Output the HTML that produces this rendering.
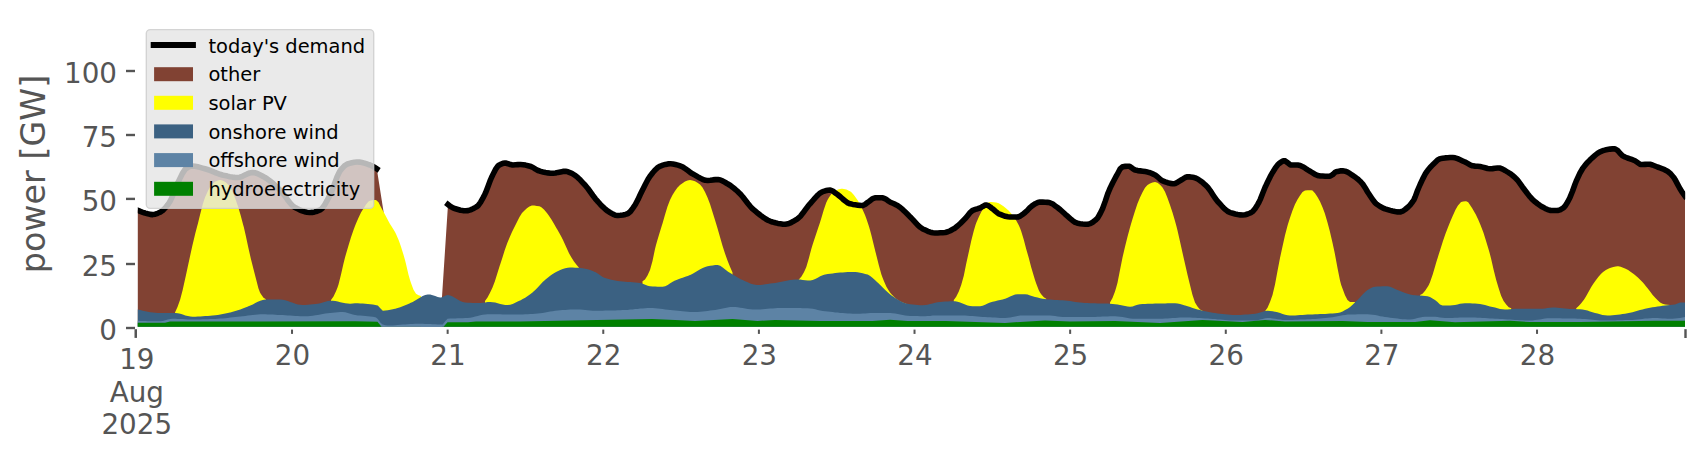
<!DOCTYPE html>
<html lang="en"><head><meta charset="utf-8"><title>power generation and demand</title>
<style>html,body{margin:0;padding:0;background:#fff}body{width:1706px;height:460px;overflow:hidden}svg{display:block}text{font-family:"DejaVu Sans","Liberation Sans",sans-serif}</style></head><body>
<svg width="1706" height="460" viewBox="0 0 1706 460">
<rect width="1706" height="460" fill="#ffffff"/>
<g id="areas">
<polygon points="137.8,326.8 137.8,210.3 140.3,211.4 142.8,212.3 145.0,213.0 145.3,213.1 147.8,213.8 150.2,214.4 152.5,214.6 152.7,214.6 155.2,214.2 157.7,213.3 160.0,212.3 160.2,212.2 162.7,210.5 165.2,207.9 167.7,204.8 169.3,202.5 170.2,201.1 172.7,195.6 175.1,189.2 177.6,183.2 178.0,182.5 180.1,178.1 182.6,173.1 185.1,169.4 186.0,168.6 187.6,167.6 190.1,166.3 192.0,166.0 192.6,166.0 195.1,166.2 197.6,166.7 200.0,167.4 202.5,168.1 205.0,168.8 205.0,168.8 207.5,169.5 210.0,170.4 212.5,171.4 215.0,172.5 217.5,173.4 220.0,174.3 222.4,175.0 222.5,175.0 224.9,175.6 227.4,176.1 229.9,176.7 232.4,177.1 234.9,177.4 237.4,177.5 237.5,177.5 239.9,177.2 242.4,176.3 244.9,175.1 247.3,173.9 249.8,172.9 252.3,172.5 252.5,172.5 254.8,172.8 257.3,173.5 259.8,174.7 262.3,176.0 264.8,177.4 265.0,177.5 267.3,178.9 269.7,180.7 272.2,182.7 274.7,184.9 277.2,187.3 279.7,189.7 280.0,190.0 282.2,192.4 284.7,195.7 287.2,199.2 289.7,202.5 292.2,205.3 294.6,207.3 295.0,207.5 297.1,208.6 299.6,209.8 302.1,210.8 304.6,211.7 307.1,212.2 309.6,212.5 310.0,212.5 312.1,212.4 314.6,211.9 317.1,211.2 319.5,210.2 320.0,210.0 322.0,208.5 324.5,205.1 327.0,200.7 329.5,195.9 330.0,195.0 332.0,190.6 334.5,183.8 337.0,177.0 339.5,171.8 340.0,171.0 341.9,168.6 344.4,165.9 346.9,164.2 347.5,164.0 349.4,163.4 351.9,162.7 354.4,162.2 356.9,162.0 357.5,162.0 359.4,162.1 361.9,162.5 364.4,163.1 366.8,163.9 369.3,164.8 370.0,165.0 371.8,165.8 374.3,167.2 376.8,168.8 383.5,211.5 383.5,326.8" fill="#814233"/>
<polygon points="442.0,326.8 442.0,297.0 448.0,204.5 450.5,206.4 453.0,207.9 454.5,208.5 455.5,208.8 458.0,209.5 460.5,210.2 463.0,210.6 465.5,210.8 466.0,210.8 468.0,210.6 470.5,209.9 473.0,208.8 475.5,207.4 477.0,206.5 478.0,205.7 480.5,202.4 483.0,197.9 484.5,195.0 485.5,192.9 488.0,186.4 490.5,179.8 491.5,177.5 493.0,174.4 495.5,169.4 498.0,165.9 498.5,165.5 500.5,164.3 503.0,163.3 505.0,163.0 505.5,163.0 508.0,163.7 510.5,164.6 512.5,165.0 513.0,165.0 515.5,164.8 518.0,164.6 520.0,164.5 520.5,164.5 523.0,164.7 525.5,165.1 528.0,165.7 530.0,166.2 530.5,166.4 533.0,167.5 535.5,169.1 538.0,170.5 540.0,171.2 540.5,171.4 543.0,172.0 545.5,172.5 548.0,172.9 550.5,173.2 552.5,173.2 553.0,173.2 555.5,173.0 558.0,172.4 560.5,171.9 563.0,171.4 565.0,171.2 565.5,171.3 568.0,171.8 570.5,172.8 572.5,173.8 572.9,174.0 575.4,175.6 577.9,177.7 580.4,180.1 582.9,182.8 585.0,185.0 585.4,185.5 587.9,188.5 590.4,192.0 592.9,195.5 595.4,198.8 597.5,201.2 597.9,201.7 600.4,204.4 602.9,206.9 605.4,209.2 607.9,211.2 610.0,212.5 610.4,212.7 612.9,214.1 615.4,215.2 617.5,215.5 617.9,215.5 620.4,215.3 622.9,214.9 625.4,214.4 627.5,213.8 627.9,213.6 630.4,211.5 632.9,208.1 635.0,205.0 635.4,204.3 637.9,199.7 640.4,194.3 642.5,190.0 642.9,189.2 645.4,184.2 647.9,179.5 650.0,176.2 650.4,175.7 652.9,172.5 655.4,169.7 657.9,167.4 660.0,166.2 660.4,166.1 662.9,165.2 665.4,164.4 667.9,163.9 670.0,163.8 670.4,163.8 672.9,164.0 675.4,164.5 677.9,165.1 680.0,165.8 680.4,165.9 682.9,167.1 685.4,168.8 687.9,170.6 690.4,172.5 692.5,173.8 692.9,174.0 695.4,175.4 697.9,176.9 700.4,178.3 702.9,179.5 705.4,180.3 707.5,180.5 707.9,180.5 710.4,180.3 712.9,179.9 715.4,179.6 717.5,179.5 717.9,179.5 720.4,180.0 722.9,181.1 725.4,182.5 727.5,183.8 727.9,184.0 730.4,185.5 732.9,187.4 735.4,189.5 737.9,191.7 740.0,193.8 740.4,194.1 742.9,197.0 745.4,200.2 747.9,203.5 750.4,206.6 752.5,208.8 752.9,209.1 755.4,211.2 757.9,213.3 760.4,215.3 762.9,217.1 765.4,218.8 767.9,220.2 770.4,221.3 772.5,222.0 772.9,222.1 775.4,222.8 777.9,223.4 780.4,223.8 782.9,224.2 785.0,224.2 785.4,224.2 787.9,223.8 790.4,222.9 792.9,221.6 795.4,220.1 797.5,218.8 797.9,218.5 800.4,216.2 802.9,213.1 805.4,209.7 807.9,206.3 810.0,203.8 810.4,203.4 812.9,200.5 815.4,197.6 817.9,195.0 820.3,192.9 822.5,191.8 822.8,191.6 825.3,190.8 827.8,190.2 830.0,190.0 830.3,190.0 832.8,191.0 835.3,192.9 837.5,194.5 837.8,194.7 840.3,196.7 842.8,199.0 845.3,201.1 847.8,202.9 850.0,203.8 850.3,203.8 852.8,204.4 855.3,204.8 857.8,205.2 860.3,205.4 862.5,205.5 862.8,205.5 865.3,204.3 867.8,202.3 869.0,201.5 870.3,200.5 872.8,198.6 875.0,197.8 875.3,197.8 877.8,197.8 880.3,197.8 882.5,197.8 882.8,197.8 885.3,198.8 887.8,200.6 890.0,202.0 890.3,202.2 892.8,203.3 895.3,204.4 897.5,205.5 897.8,205.7 900.3,207.5 902.8,209.7 905.3,212.1 907.8,214.6 910.0,216.8 910.3,217.0 912.8,219.6 915.3,222.4 917.8,225.1 920.3,227.3 922.5,228.8 922.8,228.9 925.3,230.1 927.8,231.3 930.3,232.2 932.8,232.8 935.0,233.0 935.3,233.0 937.8,233.0 940.3,232.8 942.8,232.7 945.0,232.5 945.3,232.5 947.8,231.8 950.3,230.7 952.8,229.3 953.8,228.8 955.3,227.8 957.8,225.8 960.3,223.5 962.8,221.0 965.0,218.8 965.3,218.5 967.8,215.4 970.3,212.3 972.5,210.5 972.8,210.4 975.3,209.4 977.8,208.7 980.0,208.0 980.3,207.9 982.8,206.4 985.3,205.1 986.2,205.0 987.8,205.4 990.3,207.0 992.5,208.8 992.8,208.9 995.3,211.1 997.8,213.2 998.8,213.8 1000.3,214.4 1002.8,215.4 1005.3,216.3 1007.8,216.8 1010.0,217.0 1010.3,217.0 1012.8,217.0 1015.3,217.0 1017.5,217.0 1017.8,217.0 1020.3,216.1 1022.8,214.3 1025.0,212.5 1025.3,212.3 1027.8,209.9 1030.3,207.3 1032.5,205.5 1032.8,205.3 1035.3,203.7 1037.8,202.5 1040.0,202.0 1040.3,202.0 1042.8,202.1 1045.3,202.2 1047.8,202.4 1048.8,202.5 1050.3,202.9 1052.8,204.1 1055.3,205.9 1057.5,207.5 1057.8,207.7 1060.3,209.7 1062.8,212.0 1065.3,214.3 1067.5,216.2 1067.7,216.4 1070.2,218.6 1072.7,220.7 1075.2,222.4 1077.5,223.2 1077.7,223.3 1080.2,223.7 1082.7,224.0 1085.2,224.2 1087.5,224.2 1087.7,224.2 1090.2,223.6 1092.7,222.2 1095.2,220.3 1096.2,219.5 1097.7,217.8 1100.2,213.5 1102.5,208.8 1102.7,208.2 1105.2,201.4 1107.7,193.9 1108.8,191.2 1110.2,187.9 1112.7,182.7 1115.2,178.0 1116.2,176.2 1117.7,173.5 1120.2,168.8 1122.5,166.8 1122.7,166.7 1125.2,166.4 1127.7,166.3 1128.8,166.2 1130.2,166.7 1132.7,168.6 1135.0,170.0 1135.2,170.1 1137.7,170.6 1140.2,170.9 1142.7,171.2 1145.2,171.6 1147.5,172.0 1147.7,172.1 1150.2,172.8 1152.7,173.9 1155.0,175.0 1155.2,175.1 1157.7,177.0 1160.2,179.3 1162.5,180.8 1162.7,180.8 1165.2,181.8 1167.7,182.7 1170.2,183.4 1172.7,183.7 1173.8,183.8 1175.2,183.5 1177.7,182.2 1180.2,180.6 1181.2,180.0 1182.7,179.1 1185.2,177.5 1187.5,176.8 1187.7,176.8 1190.2,176.9 1192.7,177.3 1193.8,177.5 1195.2,177.9 1197.7,179.0 1200.2,180.7 1202.7,182.6 1205.2,184.8 1206.2,185.8 1207.7,187.3 1210.2,190.6 1212.7,194.5 1215.2,198.3 1217.5,201.2 1217.7,201.5 1220.2,204.2 1222.7,207.0 1225.2,209.4 1227.7,211.4 1230.0,212.5 1230.2,212.6 1232.7,213.3 1235.2,214.0 1237.7,214.5 1240.2,214.9 1242.5,215.0 1242.7,215.0 1245.2,214.7 1247.7,214.0 1250.2,213.0 1251.2,212.5 1252.7,211.5 1255.2,208.4 1257.7,204.4 1258.8,202.5 1260.2,199.6 1262.7,193.3 1265.0,187.5 1265.2,187.1 1267.7,181.7 1270.2,176.7 1272.5,172.5 1272.7,172.2 1275.2,168.2 1277.7,164.8 1278.8,163.8 1280.2,162.7 1282.7,161.1 1284.2,160.8 1285.2,160.9 1287.7,162.8 1290.2,164.7 1291.2,165.0 1292.7,165.0 1295.2,165.0 1297.5,165.0 1297.7,165.0 1300.2,165.5 1302.7,166.7 1305.2,168.2 1307.7,169.9 1310.0,171.2 1310.2,171.3 1312.7,172.8 1315.1,174.4 1317.6,175.5 1318.8,175.8 1320.1,175.9 1322.6,176.0 1325.1,176.2 1327.6,176.2 1330.0,176.2 1330.1,176.2 1332.6,174.7 1335.1,172.3 1336.2,171.8 1337.6,171.4 1340.1,170.9 1342.5,170.8 1342.6,170.8 1345.1,171.2 1347.6,172.2 1350.1,173.7 1352.6,175.4 1355.0,177.0 1355.1,177.1 1357.6,178.9 1360.1,181.2 1362.5,183.8 1362.6,183.9 1365.1,187.7 1367.6,192.0 1368.8,193.8 1370.1,195.8 1372.6,199.5 1375.1,202.7 1376.2,203.8 1377.6,204.8 1380.1,206.5 1382.6,207.8 1385.0,208.8 1385.1,208.8 1387.6,209.6 1390.1,210.4 1392.6,211.0 1395.1,211.5 1397.6,211.9 1400.0,212.0 1400.1,212.0 1402.6,211.2 1405.1,209.5 1407.5,207.5 1407.6,207.4 1410.1,205.0 1412.6,201.8 1413.8,200.0 1415.1,197.1 1417.6,190.3 1418.8,187.5 1420.1,184.5 1422.6,179.1 1425.1,174.3 1426.2,172.5 1427.6,170.6 1430.1,167.5 1432.6,164.9 1433.8,163.8 1435.1,162.4 1437.6,160.0 1440.0,158.8 1440.1,158.7 1442.6,158.3 1445.1,157.9 1447.6,157.7 1450.1,157.5 1452.5,157.5 1452.6,157.5 1455.1,157.8 1457.6,158.6 1460.1,159.7 1462.6,160.9 1465.0,162.0 1465.1,162.0 1467.6,163.4 1470.1,164.9 1472.5,165.8 1472.6,165.8 1475.1,166.1 1477.6,166.3 1480.0,166.5 1480.1,166.5 1482.6,167.1 1485.1,167.8 1487.6,168.5 1490.0,168.8 1490.1,168.7 1492.6,168.6 1495.1,168.3 1497.6,168.0 1498.8,168.0 1500.1,168.1 1502.6,169.1 1505.1,170.5 1507.5,172.0 1507.6,172.0 1510.1,173.6 1512.6,175.5 1515.1,177.6 1516.2,178.8 1517.6,180.2 1520.1,183.6 1522.6,187.2 1523.8,188.8 1525.1,190.5 1527.6,193.8 1530.1,196.9 1532.5,199.5 1532.6,199.6 1535.1,201.8 1537.6,203.8 1540.1,205.6 1542.5,207.0 1542.6,207.0 1545.1,208.4 1547.6,209.6 1550.1,210.4 1551.2,210.5 1552.6,210.5 1555.1,210.5 1557.5,210.5 1557.6,210.5 1560.1,209.9 1562.5,208.4 1563.8,207.5 1565.0,206.2 1567.5,202.3 1570.0,197.5 1570.0,197.4 1572.5,191.2 1575.0,184.2 1576.2,181.2 1577.5,178.3 1580.0,173.0 1582.5,168.8 1582.5,168.7 1585.0,165.3 1587.5,162.4 1590.0,159.9 1591.2,158.8 1592.5,157.6 1595.0,155.4 1597.5,153.4 1600.0,151.8 1602.5,150.8 1602.5,150.7 1605.0,150.1 1607.5,149.6 1610.0,149.1 1612.5,148.9 1615.0,148.8 1615.0,148.8 1617.5,150.3 1620.0,153.3 1622.5,155.8 1622.5,155.8 1625.0,157.0 1627.5,158.0 1630.0,158.8 1632.5,159.7 1635.0,160.8 1635.0,160.8 1637.5,162.5 1640.0,164.2 1641.2,164.5 1642.5,164.5 1645.0,164.4 1647.5,164.3 1648.8,164.2 1650.0,164.3 1652.5,165.0 1655.0,166.0 1657.5,167.0 1657.5,167.0 1660.0,167.9 1662.5,168.8 1665.0,169.9 1667.5,171.2 1667.5,171.3 1670.0,173.2 1672.5,176.0 1673.8,177.5 1675.0,179.4 1677.5,184.1 1680.0,188.8 1680.0,188.8 1682.5,192.7 1685.0,196.2 1685.0,326.8" fill="#814233"/>
<polygon points="175.0,326.8 175.0,312.5 177.5,307.0 180.0,300.0 180.1,299.8 182.6,290.3 185.1,279.0 186.0,275.0 187.6,267.5 190.2,255.6 192.5,245.0 192.7,244.2 195.2,233.8 197.5,225.0 197.8,224.0 200.3,213.8 202.8,204.1 205.0,197.5 205.3,196.7 207.9,190.9 210.4,186.2 212.5,183.8 212.9,183.4 215.4,181.6 218.0,180.4 220.0,180.0 220.5,180.0 223.0,180.8 225.6,182.3 228.1,184.4 228.8,185.0 230.6,187.5 233.1,193.0 235.7,199.8 237.5,205.0 238.2,207.0 240.7,215.5 243.2,225.0 243.8,227.0 245.8,235.7 248.3,247.5 250.0,255.0 250.8,258.5 253.4,268.7 255.0,275.0 255.9,278.5 258.4,288.3 260.0,292.5 260.9,294.1 263.5,297.7 266.0,299.3 266.0,326.8" fill="#ffff00"/>
<polygon points="331.0,326.8 331.0,300.0 333.5,296.5 336.0,291.2 337.5,287.5 338.5,284.5 341.0,274.5 343.5,263.4 345.0,257.5 346.0,254.0 348.5,245.4 351.0,237.3 353.5,230.0 355.0,226.0 356.0,223.5 358.5,217.7 361.0,212.6 362.5,210.0 363.5,208.4 366.0,204.5 368.5,201.5 370.0,200.8 371.0,200.5 373.5,200.1 376.0,200.0 378.5,202.3 381.0,207.2 382.5,210.0 383.5,211.7 386.0,216.5 388.5,221.3 390.0,224.0 391.0,225.6 393.5,229.4 395.0,232.0 396.0,234.0 398.5,239.7 399.0,241.0 401.0,246.8 402.0,250.0 403.5,254.8 405.0,260.0 406.0,263.9 408.5,274.7 410.0,280.0 411.0,283.0 413.5,289.7 416.0,293.8 418.5,295.3 421.0,296.0 421.0,326.8" fill="#ffff00"/>
<polygon points="485.0,326.8 485.0,301.0 487.5,297.5 489.9,293.0 492.4,287.7 492.5,287.5 494.9,281.2 497.3,273.5 499.8,265.6 500.0,265.0 502.3,258.0 504.7,250.3 507.2,243.3 507.5,242.5 509.7,237.3 512.1,231.8 514.6,226.8 515.0,226.0 517.1,221.8 519.5,216.9 522.0,213.1 522.5,212.5 524.5,210.5 526.9,208.2 529.4,206.4 531.9,205.5 532.5,205.5 534.3,205.6 536.8,205.9 539.3,206.3 540.0,206.5 541.7,207.4 544.2,209.7 546.7,212.7 547.5,213.8 549.1,215.9 551.6,219.7 554.1,223.9 556.5,228.2 557.0,229.0 559.0,232.5 561.5,237.1 563.0,240.0 563.9,242.0 566.4,247.5 568.9,252.9 570.0,255.0 571.3,257.3 573.8,261.2 576.3,264.6 578.8,267.5 578.8,326.8" fill="#ffff00"/>
<polygon points="642.5,326.8 642.5,281.2 645.0,279.6 647.5,275.4 650.0,270.0 652.5,260.9 655.0,249.1 656.0,245.0 657.5,239.7 660.0,231.4 662.0,225.0 662.5,223.4 665.0,214.7 667.5,206.5 670.0,200.0 672.5,195.1 675.0,190.9 677.5,187.4 680.0,185.0 682.5,183.2 685.0,181.6 687.5,180.4 690.0,180.0 692.5,180.4 695.0,181.3 697.5,182.8 700.0,184.5 702.5,187.5 705.0,192.1 707.5,197.5 710.0,204.0 712.5,211.9 715.0,220.0 717.5,228.3 720.0,237.1 722.5,245.7 725.0,253.5 727.5,260.4 730.0,266.7 732.5,272.5 732.5,326.8" fill="#ffff00"/>
<polygon points="798.8,326.8 798.8,279.5 801.3,276.8 803.8,272.5 805.0,270.0 806.3,266.9 808.8,258.4 811.3,249.1 812.5,245.0 813.8,241.0 816.3,233.5 818.8,226.1 819.5,224.0 821.3,218.2 823.8,209.7 826.3,202.5 827.5,200.0 828.8,197.8 831.3,194.1 833.8,191.5 835.0,190.8 836.3,190.2 838.8,189.3 841.3,188.8 842.5,188.8 843.9,188.9 846.4,189.6 848.9,190.7 850.0,191.2 851.4,192.2 853.9,194.9 856.4,198.4 857.5,200.0 858.9,202.2 861.4,206.9 863.9,212.4 865.0,215.0 866.4,218.7 868.9,226.3 870.0,230.0 871.4,235.3 873.9,245.6 875.5,252.0 876.4,255.6 878.9,265.6 881.4,274.5 882.5,277.5 883.9,281.1 886.4,286.7 889.0,291.1 890.0,292.5 891.5,294.2 894.0,296.8 896.5,299.0 899.0,300.7 900.0,301.2 901.5,302.0 904.0,303.1 906.5,304.0 909.0,304.5 909.0,326.8" fill="#ffff00"/>
<polygon points="953.8,326.8 953.8,300.0 956.2,296.8 958.8,291.5 961.2,285.0 963.8,275.7 966.2,263.7 968.8,252.0 971.2,241.1 973.8,230.8 975.5,225.0 976.2,223.0 978.8,216.9 981.2,212.0 982.5,210.0 983.8,208.2 986.2,204.7 988.8,202.3 990.0,202.0 991.2,202.0 993.8,202.2 996.2,202.5 998.8,203.3 1001.2,204.8 1003.8,206.6 1005.0,207.5 1006.2,208.5 1008.8,210.7 1011.2,213.5 1012.5,215.0 1013.8,216.7 1016.2,220.5 1018.8,225.3 1020.0,228.0 1021.2,231.3 1023.8,239.7 1026.2,249.0 1027.5,253.5 1028.8,258.0 1031.2,267.3 1033.8,276.1 1035.0,280.0 1036.2,283.6 1038.8,290.2 1040.0,292.5 1041.2,294.3 1043.8,297.3 1046.2,298.8 1046.2,326.8" fill="#ffff00"/>
<polygon points="1110.0,326.8 1110.0,302.5 1112.5,298.1 1115.0,291.4 1116.2,287.5 1117.5,282.7 1120.0,270.1 1122.5,257.5 1125.0,246.8 1127.5,236.8 1130.0,227.5 1131.0,224.0 1132.5,219.0 1135.0,210.9 1137.5,203.6 1140.0,197.5 1142.5,192.3 1145.0,187.8 1147.5,185.0 1150.0,183.5 1152.5,182.4 1155.0,182.0 1157.5,182.8 1160.0,184.8 1162.5,187.5 1165.0,191.8 1167.5,198.0 1170.0,205.0 1172.5,212.5 1175.0,221.0 1176.5,226.5 1177.5,230.5 1180.0,241.4 1182.5,252.8 1183.0,255.0 1185.0,263.8 1187.5,274.8 1190.0,285.0 1192.5,295.1 1195.0,302.5 1197.5,306.6 1200.0,309.6 1202.5,310.8 1202.5,326.8" fill="#ffff00"/>
<polygon points="1265.0,326.8 1265.0,311.2 1267.5,307.8 1270.0,302.1 1272.5,295.0 1275.0,284.6 1277.5,271.0 1280.0,258.0 1282.5,246.5 1285.0,235.3 1287.5,225.7 1288.0,224.0 1290.0,217.7 1292.5,210.5 1295.0,204.3 1297.5,199.5 1300.0,195.4 1302.5,192.0 1305.0,190.5 1307.5,190.3 1310.0,190.2 1311.2,190.2 1312.5,190.6 1315.0,193.3 1317.5,197.0 1320.0,201.4 1322.5,207.2 1324.5,212.5 1325.0,213.9 1327.5,222.4 1329.5,230.0 1330.0,232.0 1332.5,242.8 1334.5,252.0 1335.0,254.4 1337.5,267.9 1340.0,280.5 1341.2,285.0 1342.5,288.5 1345.0,295.2 1347.5,300.1 1350.0,302.0 1352.5,302.0 1355.0,302.0 1355.0,326.8" fill="#ffff00"/>
<polygon points="1420.0,326.8 1420.0,295.0 1422.5,293.7 1425.1,290.8 1427.6,286.9 1428.8,285.0 1430.1,282.1 1432.7,274.5 1435.2,265.9 1436.2,262.5 1437.7,257.7 1440.3,249.4 1442.5,242.5 1442.8,241.6 1445.3,234.3 1447.9,227.5 1449.5,223.5 1450.4,221.3 1453.0,215.2 1455.5,209.7 1457.5,206.2 1458.0,205.5 1460.6,202.4 1461.2,202.0 1463.1,201.6 1465.6,201.3 1466.2,201.2 1468.2,202.3 1470.7,205.9 1472.5,208.8 1473.2,209.9 1475.8,214.4 1478.3,219.8 1480.5,225.0 1480.8,225.8 1483.4,232.6 1485.9,240.4 1488.4,248.8 1489.5,252.5 1491.0,258.2 1493.5,269.2 1496.0,279.3 1496.2,280.0 1498.6,287.9 1501.1,295.7 1503.6,301.1 1503.8,301.2 1506.2,304.5 1508.7,307.2 1511.2,308.2 1511.2,326.8" fill="#ffff00"/>
<polygon points="1576.2,326.8 1576.2,308.2 1578.7,306.0 1581.2,303.2 1583.7,300.1 1583.8,300.0 1586.1,296.3 1588.6,291.8 1591.1,287.3 1592.5,285.0 1593.5,283.5 1596.0,280.0 1598.5,276.7 1600.9,273.9 1602.5,272.5 1603.4,271.8 1605.9,270.1 1608.3,268.7 1610.0,268.0 1610.8,267.7 1613.3,266.9 1615.7,266.4 1617.5,266.2 1618.2,266.3 1620.7,266.8 1623.1,267.8 1623.8,268.0 1625.6,268.8 1628.1,270.1 1630.5,271.7 1633.0,273.5 1635.0,275.0 1635.5,275.4 1637.9,277.5 1640.4,280.0 1642.9,282.6 1645.0,285.0 1645.3,285.4 1647.8,288.4 1650.3,291.8 1652.7,295.0 1655.0,297.5 1655.2,297.7 1657.7,300.2 1660.1,302.5 1662.5,303.8 1662.6,303.8 1665.1,304.4 1667.5,304.8 1670.0,305.0 1670.0,326.8" fill="#ffff00"/>
<polygon points="137.8,326.8 137.8,309.5 140.3,310.1 142.8,310.7 145.3,311.3 147.8,311.8 150.3,312.2 152.8,312.5 155.3,312.8 157.8,313.0 160.0,313.0 160.3,313.0 162.8,313.0 165.3,313.0 167.8,313.0 170.3,313.0 172.8,313.0 175.0,313.0 175.3,313.0 177.8,313.3 180.3,313.8 182.8,314.6 185.3,315.4 187.8,316.1 190.3,316.6 192.5,316.8 192.8,316.7 195.3,316.7 197.8,316.6 200.3,316.5 202.8,316.3 205.3,316.1 207.8,315.9 210.3,315.7 212.5,315.5 212.8,315.5 215.3,315.2 217.8,314.9 220.3,314.5 222.8,314.0 225.3,313.5 227.8,313.0 230.0,312.5 230.3,312.4 232.8,311.8 235.3,311.1 237.8,310.2 240.3,309.4 242.8,308.5 245.3,307.6 247.5,306.8 247.8,306.6 250.3,305.6 252.8,304.4 255.3,303.1 257.8,301.8 260.3,300.7 262.8,299.9 265.3,299.5 266.0,299.5 267.8,299.5 270.3,299.5 272.8,299.5 275.3,299.5 277.8,299.5 280.0,299.5 280.3,299.5 282.8,299.7 285.3,300.3 287.8,301.0 290.3,301.9 292.8,302.8 295.3,303.7 297.8,304.4 300.3,304.8 302.5,305.0 302.8,305.0 305.3,304.9 307.8,304.8 310.3,304.6 312.8,304.3 315.3,304.0 317.5,303.8 317.8,303.7 320.3,303.2 322.8,302.5 325.3,301.7 327.8,301.1 330.3,300.8 331.0,300.8 332.8,300.8 335.3,301.1 337.8,301.6 340.3,302.2 342.8,302.8 345.3,303.3 347.8,303.6 350.0,303.8 350.3,303.7 352.8,303.5 355.0,303.2 355.3,303.3 357.8,303.3 360.3,303.4 362.8,303.5 365.3,303.7 367.8,303.9 370.3,304.2 372.8,304.6 375.3,305.0 377.5,305.5 377.8,305.6 380.3,308.3 382.8,310.7 383.0,310.8 385.3,310.6 387.8,310.3 390.3,309.8 392.8,309.3 395.0,308.8 395.3,308.7 397.7,308.0 400.2,307.2 402.7,306.2 405.2,305.2 407.7,304.2 410.0,303.2 410.2,303.1 412.7,301.9 415.2,300.5 417.7,298.9 420.2,297.4 422.7,296.1 425.2,295.1 427.7,294.6 428.8,294.5 430.2,294.6 432.7,295.2 435.2,296.1 437.7,297.0 440.2,297.5 441.0,297.5 442.7,297.1 445.2,295.7 447.5,295.0 447.7,295.0 450.2,295.5 452.7,296.5 455.2,298.0 457.7,299.5 460.2,301.0 462.7,302.1 465.0,302.5 465.2,302.5 467.7,302.7 470.2,302.8 472.7,302.9 475.2,302.9 477.7,303.0 480.0,303.0 480.2,303.0 482.7,302.8 485.2,302.5 487.7,302.1 490.0,302.0 490.2,302.0 492.7,302.2 495.2,302.6 497.7,303.2 500.2,303.9 502.7,304.5 505.2,304.9 507.5,305.0 507.7,305.0 510.2,304.7 512.7,303.9 515.2,302.8 517.7,301.6 520.0,300.5 520.2,300.4 522.7,299.1 525.2,297.7 527.7,296.0 530.2,294.2 532.5,292.5 532.7,292.3 535.2,290.1 537.7,287.4 540.2,284.7 542.7,282.1 545.0,280.0 545.2,279.8 547.7,277.8 550.2,275.8 552.7,273.9 555.2,272.4 557.5,271.2 557.7,271.2 560.2,270.1 562.7,269.1 565.2,268.3 567.7,267.7 570.0,267.5 570.2,267.5 572.7,267.5 575.2,267.7 577.7,267.8 580.2,268.0 582.5,268.2 582.7,268.3 585.2,268.7 587.7,269.3 590.2,270.1 592.7,271.1 595.0,272.0 595.2,272.1 597.7,273.5 600.2,275.2 602.7,276.9 605.0,278.0 605.2,278.1 607.7,278.8 610.2,279.5 612.7,280.0 615.2,280.5 617.7,280.9 620.0,281.2 620.2,281.3 622.7,281.5 625.2,281.8 627.7,281.9 630.2,282.1 632.7,282.3 635.2,282.4 637.7,282.7 640.0,283.0 640.2,283.0 642.7,283.8 645.2,284.8 647.7,285.8 650.0,286.2 650.2,286.3 652.7,286.4 655.2,286.6 657.7,286.7 660.2,286.7 662.5,286.8 662.7,286.7 665.2,286.2 667.7,284.9 670.2,283.3 672.7,281.7 675.0,280.5 675.2,280.4 677.7,279.4 680.2,278.5 682.7,277.7 685.2,276.8 687.7,275.9 690.0,275.0 690.2,274.9 692.7,273.7 695.2,272.3 697.7,270.8 700.2,269.3 702.7,267.9 705.2,266.9 707.5,266.2 707.7,266.2 710.2,265.8 712.7,265.4 715.2,265.1 717.5,265.0 717.7,265.0 720.2,265.8 722.7,267.5 725.2,269.6 727.5,271.2 727.7,271.4 730.2,272.9 732.7,274.5 735.2,276.1 737.7,277.6 740.2,278.9 742.5,280.0 742.7,280.1 745.2,281.2 747.7,282.3 750.2,283.4 752.7,284.2 755.2,284.8 757.5,285.0 757.7,285.0 760.2,284.9 762.7,284.7 765.2,284.3 767.7,284.0 770.2,283.6 772.5,283.2 772.7,283.2 775.2,282.9 777.7,282.4 780.2,281.9 782.7,281.4 785.2,280.9 787.7,280.5 790.2,280.1 792.7,279.8 795.2,279.6 797.5,279.5 797.7,279.5 800.2,279.6 802.7,279.9 805.2,280.2 807.7,280.4 810.0,280.5 810.2,280.5 812.7,280.1 815.2,279.0 817.7,277.7 820.2,276.3 822.7,275.2 825.0,274.5 825.2,274.5 827.7,274.1 830.2,273.7 832.7,273.4 835.2,273.1 837.7,272.8 840.2,272.6 842.7,272.4 845.2,272.2 847.7,272.1 850.2,272.0 852.5,272.0 852.7,272.0 855.2,272.1 857.7,272.3 860.2,272.7 862.7,273.2 865.2,273.9 867.5,274.5 867.7,274.5 870.2,275.9 872.7,277.9 875.2,280.3 877.5,282.5 877.7,282.6 880.2,284.9 882.7,287.4 885.2,289.9 887.7,292.3 890.2,294.5 892.5,296.2 892.7,296.3 895.2,298.0 897.7,299.5 900.2,301.0 902.7,302.2 905.2,303.2 907.5,303.8 907.7,303.8 910.2,304.2 912.6,304.5 915.1,304.8 917.6,305.1 920.1,305.2 922.5,305.2 922.6,305.2 925.1,305.1 927.6,304.7 930.1,304.1 932.6,303.4 935.1,302.8 937.6,302.3 940.0,302.0 940.1,302.0 942.6,301.8 945.1,301.6 947.6,301.4 950.1,301.3 952.6,301.3 953.8,301.2 955.1,301.3 957.6,301.8 960.1,302.6 962.6,303.6 965.1,304.5 967.6,305.4 970.1,306.0 972.5,306.2 972.6,306.2 975.1,306.2 977.6,306.2 980.0,306.2 980.1,306.2 982.6,305.8 985.1,304.7 987.6,303.4 990.0,302.5 990.1,302.5 992.6,301.8 995.1,301.2 997.6,300.6 1000.1,300.0 1002.6,299.4 1005.0,298.8 1005.1,298.7 1007.6,297.7 1010.1,296.6 1012.6,295.4 1015.1,294.6 1017.5,294.2 1017.6,294.2 1020.1,294.2 1022.6,294.2 1025.0,294.2 1025.1,294.3 1027.6,294.6 1030.1,295.4 1032.6,296.3 1035.0,297.0 1035.1,297.0 1037.6,297.6 1040.1,298.2 1042.6,298.7 1045.1,299.1 1046.2,299.2 1047.6,299.4 1050.1,299.6 1052.6,299.8 1055.1,299.9 1057.6,300.0 1060.1,300.2 1062.6,300.3 1065.0,300.5 1065.1,300.5 1067.6,300.8 1070.1,301.1 1072.6,301.5 1075.1,301.9 1077.6,302.2 1080.1,302.6 1082.6,302.8 1085.0,303.0 1085.1,303.0 1087.6,303.1 1090.1,303.2 1092.6,303.3 1095.1,303.3 1097.6,303.4 1100.1,303.4 1102.6,303.5 1105.1,303.5 1107.6,303.6 1110.0,303.8 1110.1,303.8 1112.6,304.0 1115.1,304.3 1117.6,304.6 1120.0,305.0 1120.1,305.0 1122.6,305.5 1125.1,306.1 1127.6,306.6 1130.0,306.8 1130.1,306.7 1132.6,306.4 1135.1,305.6 1137.6,304.7 1140.0,304.2 1140.1,304.2 1142.6,304.1 1145.1,303.9 1147.6,303.8 1150.1,303.8 1152.6,303.7 1155.1,303.6 1157.6,303.6 1160.0,303.5 1160.1,303.5 1162.6,303.4 1165.1,303.4 1167.6,303.3 1170.1,303.3 1172.6,303.3 1175.0,303.2 1175.1,303.3 1177.6,303.5 1180.1,304.1 1182.6,304.8 1185.0,305.5 1185.1,305.5 1187.6,306.3 1190.1,307.1 1192.6,308.0 1195.1,308.8 1197.5,309.5 1197.6,309.5 1200.1,310.1 1202.6,310.7 1205.1,311.3 1207.6,311.8 1210.1,312.2 1212.6,312.7 1215.0,313.0 1215.1,313.0 1217.6,313.4 1220.1,313.7 1222.6,314.0 1225.1,314.3 1227.6,314.6 1230.1,314.8 1232.6,315.0 1235.0,315.0 1235.1,315.0 1237.6,315.0 1240.1,314.9 1242.6,314.8 1245.1,314.6 1247.6,314.4 1250.1,314.2 1252.6,314.0 1255.0,313.8 1255.1,313.7 1257.6,313.2 1260.1,312.5 1262.6,311.7 1265.1,311.0 1267.5,310.8 1267.6,310.8 1270.1,310.9 1272.6,311.3 1275.0,311.8 1275.1,311.8 1277.6,312.3 1280.1,313.1 1282.6,314.0 1285.1,314.7 1287.6,315.3 1290.0,315.5 1290.1,315.5 1292.6,315.5 1295.1,315.4 1297.6,315.3 1300.1,315.1 1302.6,315.0 1305.1,314.8 1307.6,314.6 1310.0,314.5 1310.1,314.5 1312.6,314.4 1315.1,314.3 1317.6,314.2 1320.1,314.1 1322.6,314.0 1325.1,313.9 1327.6,313.8 1330.1,313.6 1332.6,313.5 1335.1,313.2 1337.5,313.0 1337.6,313.0 1340.1,312.4 1342.6,311.4 1345.1,310.1 1347.5,308.8 1347.6,308.7 1350.1,307.0 1352.6,304.8 1355.1,302.3 1357.5,300.0 1357.6,299.9 1360.1,297.3 1362.6,294.5 1365.1,291.9 1367.5,290.0 1367.6,290.0 1370.1,288.5 1372.6,287.3 1375.0,286.8 1375.1,286.7 1377.6,286.6 1380.1,286.4 1382.6,286.3 1385.1,286.3 1387.5,286.2 1387.6,286.3 1390.1,286.7 1392.6,287.7 1395.1,288.9 1397.5,290.0 1397.6,290.0 1400.1,291.0 1402.6,292.0 1405.1,292.9 1407.6,293.8 1410.1,294.5 1412.5,295.0 1412.6,295.0 1415.1,295.3 1417.6,295.5 1420.1,295.6 1422.6,295.7 1425.1,295.9 1427.5,296.2 1427.5,296.3 1430.0,297.1 1432.5,298.5 1435.0,300.0 1435.0,300.0 1437.5,302.1 1440.0,304.4 1442.5,305.5 1442.5,305.5 1445.0,305.5 1447.5,305.5 1450.0,305.5 1450.0,305.5 1452.5,305.3 1455.0,304.9 1457.5,304.4 1460.0,303.8 1462.5,303.4 1465.0,303.2 1465.0,303.3 1467.5,303.3 1470.0,303.3 1472.5,303.5 1475.0,303.6 1477.5,303.8 1477.5,303.8 1480.0,304.0 1482.5,304.5 1485.0,305.1 1487.5,305.8 1490.0,306.4 1492.5,307.0 1492.5,307.0 1495.0,307.6 1497.5,308.3 1500.0,308.9 1502.5,309.3 1505.0,309.5 1505.0,309.5 1507.5,309.4 1510.0,309.2 1512.5,309.0 1515.0,308.8 1517.5,308.8 1517.5,308.8 1520.0,308.8 1522.5,308.8 1525.0,308.8 1527.5,308.8 1530.0,308.8 1532.5,308.8 1535.0,308.8 1537.5,308.8 1540.0,308.8 1542.5,308.8 1542.5,308.7 1545.0,308.6 1547.5,308.1 1550.0,307.7 1552.5,307.5 1552.5,307.5 1555.0,307.6 1557.5,307.8 1560.0,308.0 1562.5,308.3 1565.0,308.6 1567.5,308.8 1567.5,308.8 1570.0,308.9 1572.5,309.0 1575.0,309.1 1577.5,309.2 1580.0,309.3 1582.5,309.5 1582.5,309.5 1585.0,309.9 1587.5,310.6 1590.0,311.5 1592.5,312.3 1595.0,313.0 1595.0,313.0 1597.5,313.6 1600.0,314.3 1602.5,314.9 1605.0,315.3 1607.5,315.5 1607.5,315.5 1610.0,315.4 1612.5,315.3 1615.0,315.1 1617.5,314.8 1620.0,314.5 1622.5,314.1 1625.0,313.8 1625.0,313.7 1627.5,313.3 1630.0,312.8 1632.5,312.2 1635.0,311.5 1637.5,310.8 1640.0,310.1 1642.5,309.4 1645.0,308.8 1647.5,308.2 1647.5,308.2 1650.0,307.8 1652.5,307.3 1655.0,306.9 1657.5,306.5 1660.0,306.2 1662.5,305.8 1665.0,305.5 1665.0,305.5 1667.5,305.3 1670.0,305.1 1672.5,304.8 1675.0,304.5 1675.0,304.5 1677.5,303.4 1680.0,302.5 1680.0,302.5 1682.5,302.5 1685.0,302.5 1685.0,326.8" fill="#3b6182"/>
<polygon points="137.8,326.8 137.8,320.8 140.3,320.9 142.8,321.0 145.3,321.1 147.8,321.2 150.3,321.2 152.8,321.2 155.3,321.2 157.8,321.2 160.0,321.2 160.3,321.2 162.8,320.9 165.3,320.3 167.8,319.5 170.3,319.0 172.5,318.8 172.8,318.8 175.3,318.8 177.8,318.9 180.3,319.0 182.8,319.1 185.3,319.3 187.8,319.4 190.3,319.5 192.5,319.5 192.8,319.5 195.3,319.5 197.8,319.5 200.3,319.4 202.8,319.3 205.3,319.3 207.8,319.2 210.3,319.1 212.8,319.0 215.3,318.9 217.5,318.8 217.8,318.7 220.3,318.6 222.8,318.4 225.3,318.2 227.8,317.9 230.3,317.6 232.8,317.3 235.3,317.1 237.8,316.8 240.3,316.5 242.5,316.2 242.8,316.2 245.3,315.9 247.8,315.6 250.3,315.3 252.8,315.0 255.3,314.7 257.8,314.4 260.3,314.3 262.5,314.2 262.8,314.3 265.3,314.3 267.8,314.4 270.3,314.5 272.8,314.6 275.3,314.7 277.8,314.9 280.0,315.0 280.3,315.0 282.8,315.1 285.3,315.3 287.8,315.5 290.3,315.6 292.8,315.8 295.3,315.9 297.8,316.1 300.3,316.2 302.8,316.2 305.0,316.2 305.3,316.2 307.8,316.2 310.3,316.0 312.8,315.7 315.3,315.3 317.8,314.9 320.3,314.4 322.8,314.0 325.3,313.6 327.8,313.3 330.0,313.0 330.3,313.0 332.8,312.7 335.3,312.4 337.8,312.2 340.3,312.1 342.5,312.0 342.8,312.0 345.3,312.3 347.8,312.9 350.3,313.7 352.8,314.5 355.0,315.0 355.3,315.0 357.8,315.4 360.3,315.6 362.8,315.8 365.3,316.0 367.8,316.2 370.3,316.5 372.8,316.8 375.3,317.3 376.0,317.5 377.8,318.9 380.3,322.4 382.5,324.5 382.8,324.6 385.3,325.3 387.5,325.5 387.8,325.5 390.3,325.5 392.8,325.4 395.3,325.2 397.7,325.0 400.2,324.8 402.7,324.6 405.2,324.4 407.7,324.2 410.2,324.0 412.7,323.9 415.2,323.8 417.5,323.8 417.7,323.8 420.2,323.8 422.7,323.8 425.2,323.9 427.7,324.0 430.2,324.1 432.7,324.2 435.2,324.3 437.7,324.4 440.2,324.5 442.5,324.5 442.7,324.5 445.2,321.3 447.5,318.8 447.7,318.7 450.2,318.5 452.7,318.4 455.2,318.4 457.7,318.3 460.2,318.3 462.7,318.2 465.2,318.1 467.5,318.0 467.7,318.0 470.2,317.7 472.7,317.2 475.2,316.6 477.7,315.9 480.2,315.3 482.7,314.7 485.2,314.4 487.5,314.2 487.7,314.3 490.2,314.3 492.7,314.3 495.2,314.3 497.7,314.3 500.2,314.3 502.7,314.4 505.2,314.4 507.7,314.4 510.2,314.5 512.7,314.5 515.2,314.5 517.5,314.5 517.7,314.5 520.2,314.5 522.7,314.4 525.2,314.3 527.7,314.2 530.2,314.0 532.7,313.9 535.0,313.8 535.2,313.7 537.7,313.5 540.2,313.2 542.7,312.9 545.2,312.4 547.7,312.0 550.2,311.6 552.7,311.2 555.2,310.8 557.7,310.4 560.2,310.2 562.5,310.0 562.7,310.0 565.2,309.9 567.7,309.7 570.2,309.6 572.7,309.6 575.2,309.5 577.5,309.5 577.7,309.5 580.2,309.6 582.7,309.8 585.2,310.0 587.7,310.3 590.2,310.5 592.7,310.7 595.0,310.8 595.2,310.7 597.7,310.7 600.2,310.7 602.7,310.7 605.2,310.6 607.7,310.6 610.2,310.5 612.7,310.4 615.2,310.4 617.7,310.3 620.2,310.2 622.7,310.1 625.0,310.0 625.2,310.0 627.7,309.9 630.2,309.6 632.7,309.4 635.2,309.1 637.7,308.9 640.2,308.6 642.7,308.4 645.2,308.2 647.7,308.0 650.0,308.0 650.2,308.0 652.7,308.1 655.2,308.2 657.7,308.5 660.2,308.8 662.7,309.1 665.2,309.5 667.7,309.8 670.0,310.0 670.2,310.0 672.7,310.3 675.2,310.5 677.7,310.8 680.2,311.0 682.7,311.3 685.2,311.5 687.7,311.7 690.2,311.9 692.7,312.0 695.0,312.0 695.2,312.0 697.7,311.9 700.2,311.8 702.7,311.6 705.2,311.3 707.7,311.0 710.2,310.6 712.7,310.3 715.0,310.0 715.2,310.0 717.7,309.6 720.2,309.0 722.7,308.5 725.2,307.9 727.7,307.4 730.2,307.1 732.5,307.0 732.7,307.0 735.2,307.1 737.7,307.3 740.2,307.7 742.7,308.1 745.2,308.5 747.7,308.9 750.2,309.2 752.7,309.4 755.0,309.5 755.2,309.5 757.7,309.5 760.2,309.4 762.7,309.2 765.2,309.0 767.7,308.8 770.2,308.6 772.7,308.4 775.2,308.3 777.7,308.1 780.2,308.0 782.5,308.0 782.7,308.0 785.2,308.0 787.7,308.0 790.2,308.0 792.7,308.0 795.2,308.1 797.7,308.1 800.2,308.1 802.7,308.2 805.2,308.2 807.5,308.2 807.7,308.3 810.2,308.4 812.7,308.8 815.2,309.3 817.7,309.9 820.2,310.4 822.7,310.9 825.0,311.2 825.2,311.3 827.7,311.5 830.2,311.8 832.7,312.1 835.2,312.4 837.7,312.6 840.2,312.9 842.7,313.1 845.2,313.3 847.7,313.4 850.2,313.6 852.7,313.7 855.2,313.7 857.5,313.8 857.7,313.7 860.2,313.7 862.7,313.6 865.2,313.4 867.7,313.3 870.2,313.1 872.7,313.0 875.0,313.0 875.2,313.0 877.7,313.0 880.2,313.0 882.7,313.0 885.2,313.0 887.7,313.0 890.0,313.0 890.2,313.0 892.7,313.2 895.2,313.5 897.7,314.0 900.2,314.6 902.7,315.1 905.2,315.5 907.5,315.8 907.7,315.8 910.2,315.9 912.6,316.0 915.1,316.1 917.6,316.1 920.1,316.2 922.6,316.2 925.0,316.2 925.1,316.2 927.6,316.1 930.1,315.9 932.6,315.6 935.0,315.5 935.1,315.5 937.6,315.5 940.1,315.5 942.6,315.5 945.1,315.5 947.6,315.5 950.1,315.5 952.6,315.5 955.1,315.5 957.6,315.5 960.0,315.5 960.1,315.5 962.6,315.5 965.1,315.6 967.6,315.7 970.1,315.9 972.6,316.1 975.1,316.3 977.6,316.5 980.1,316.7 982.6,316.9 985.0,317.0 985.1,317.0 987.6,317.2 990.1,317.3 992.6,317.5 995.1,317.6 997.6,317.8 1000.1,317.9 1002.6,318.0 1005.0,318.0 1005.1,318.0 1007.6,317.8 1010.1,317.5 1012.6,317.0 1015.1,316.5 1017.6,316.0 1020.1,315.6 1022.5,315.5 1022.6,315.5 1025.1,315.5 1027.6,315.5 1030.1,315.5 1032.6,315.5 1035.1,315.5 1037.6,315.5 1040.1,315.5 1042.6,315.5 1045.1,315.5 1047.5,315.5 1047.6,315.5 1050.1,315.6 1052.6,315.8 1055.1,316.1 1057.6,316.4 1060.1,316.7 1062.6,316.9 1065.0,317.0 1065.1,317.0 1067.6,317.0 1070.1,317.0 1072.6,317.0 1075.1,317.0 1077.6,317.0 1080.1,317.0 1082.6,317.0 1085.1,317.0 1087.6,317.0 1090.0,317.0 1090.1,317.0 1092.6,317.0 1095.1,316.9 1097.6,316.8 1100.1,316.7 1102.6,316.6 1105.1,316.5 1107.6,316.4 1110.1,316.3 1112.6,316.3 1115.0,316.2 1115.1,316.3 1117.6,316.4 1120.1,316.7 1122.6,317.1 1125.1,317.5 1127.6,318.0 1130.1,318.4 1132.6,318.7 1135.0,318.8 1135.1,318.8 1137.6,318.8 1140.1,318.8 1142.6,318.8 1145.1,318.8 1147.6,318.8 1150.1,318.8 1152.6,318.8 1155.1,318.8 1157.6,318.8 1160.0,318.8 1160.1,318.7 1162.6,318.7 1165.1,318.6 1167.6,318.5 1170.1,318.3 1172.6,318.1 1175.1,317.9 1177.6,317.8 1180.1,317.6 1182.6,317.5 1185.0,317.5 1185.1,317.5 1187.6,317.5 1190.1,317.6 1192.6,317.7 1195.1,317.8 1197.6,317.9 1200.1,318.1 1202.6,318.3 1205.1,318.4 1207.6,318.6 1210.0,318.8 1210.1,318.8 1212.6,318.9 1215.1,319.1 1217.6,319.4 1220.1,319.6 1222.6,319.8 1225.1,320.0 1227.6,320.2 1230.1,320.4 1232.6,320.5 1235.0,320.5 1235.1,320.5 1237.6,320.5 1240.1,320.5 1242.6,320.5 1245.1,320.5 1247.6,320.5 1250.1,320.5 1252.6,320.5 1255.0,320.5 1255.1,320.5 1257.6,320.2 1260.1,319.6 1262.6,318.9 1265.1,318.2 1267.5,318.0 1267.6,318.0 1270.1,318.1 1272.6,318.4 1275.1,318.8 1277.6,319.2 1280.1,319.6 1282.6,319.9 1285.0,320.0 1285.1,320.0 1287.6,320.0 1290.1,320.0 1292.6,319.9 1295.1,319.8 1297.6,319.7 1300.1,319.6 1302.6,319.5 1305.1,319.4 1307.6,319.3 1310.0,319.2 1310.1,319.2 1312.6,319.1 1315.1,318.9 1317.6,318.7 1320.1,318.5 1322.6,318.3 1325.1,318.0 1327.6,317.8 1330.0,317.5 1330.1,317.5 1332.6,317.2 1335.1,316.7 1337.6,316.3 1340.1,315.8 1342.6,315.3 1345.1,314.9 1347.6,314.6 1350.0,314.5 1350.1,314.5 1352.6,314.4 1355.1,314.4 1357.6,314.3 1360.1,314.3 1362.6,314.3 1365.1,314.3 1367.5,314.2 1367.6,314.3 1370.1,314.4 1372.6,314.7 1375.1,315.1 1377.6,315.6 1380.1,316.2 1382.6,316.6 1385.0,317.0 1385.1,317.0 1387.6,317.3 1390.1,317.7 1392.6,318.0 1395.1,318.3 1397.6,318.6 1400.1,318.9 1402.6,319.2 1405.1,319.3 1407.6,319.5 1410.0,319.5 1410.1,319.5 1412.6,319.3 1415.1,318.8 1417.6,318.1 1420.1,317.5 1422.6,316.9 1425.0,316.8 1425.1,316.8 1427.5,316.8 1430.0,316.8 1432.5,316.8 1435.0,316.8 1435.0,316.8 1437.5,317.0 1440.0,317.4 1442.5,317.8 1445.0,318.0 1445.0,318.0 1447.5,318.0 1450.0,317.9 1452.5,317.9 1455.0,317.8 1457.5,317.7 1460.0,317.6 1462.5,317.6 1465.0,317.5 1467.5,317.5 1467.5,317.5 1470.0,317.5 1472.5,317.6 1475.0,317.6 1477.5,317.7 1480.0,317.8 1482.5,317.9 1485.0,318.1 1487.5,318.2 1490.0,318.4 1492.5,318.5 1495.0,318.7 1497.5,318.8 1500.0,319.0 1502.5,319.1 1505.0,319.2 1505.0,319.3 1507.5,319.4 1510.0,319.5 1512.5,319.7 1515.0,319.9 1517.5,320.0 1520.0,320.2 1522.5,320.3 1525.0,320.4 1527.5,320.5 1530.0,320.5 1530.0,320.5 1532.5,320.4 1535.0,320.1 1537.5,319.8 1540.0,319.4 1542.5,319.0 1545.0,318.6 1547.5,318.3 1550.0,318.2 1550.0,318.3 1552.5,318.3 1555.0,318.3 1557.5,318.3 1560.0,318.3 1562.5,318.4 1565.0,318.4 1567.5,318.4 1570.0,318.5 1572.5,318.6 1575.0,318.6 1577.5,318.7 1580.0,318.8 1580.0,318.8 1582.5,318.9 1585.0,319.1 1587.5,319.3 1590.0,319.6 1592.5,319.8 1595.0,320.1 1597.5,320.3 1600.0,320.4 1602.5,320.5 1602.5,320.5 1605.0,320.5 1607.5,320.5 1610.0,320.5 1612.5,320.4 1615.0,320.4 1617.5,320.3 1620.0,320.3 1622.5,320.2 1625.0,320.1 1627.5,320.1 1630.0,320.0 1630.0,320.0 1632.5,319.9 1635.0,319.7 1637.5,319.5 1640.0,319.2 1642.5,318.9 1645.0,318.6 1647.5,318.4 1650.0,318.2 1652.5,318.0 1655.0,318.0 1655.0,318.0 1657.5,318.1 1660.0,318.2 1662.5,318.4 1665.0,318.6 1667.5,318.7 1670.0,318.8 1670.0,318.7 1672.5,318.7 1675.0,318.5 1677.5,318.2 1680.0,317.9 1682.5,317.5 1685.0,317.0 1685.0,326.8" fill="#5d83a5"/>
<polygon points="137.8,326.8 137.8,322.8 165.0,322.8 170.0,321.6 262.0,321.4 355.0,321.3 377.5,321.8 381.5,326.8 381.5,326.8" fill="#008000"/>
<polygon points="443.5,326.8 443.5,326.8 447.5,322.2 468.0,322.2 476.0,321.4 520.0,321.5 570.0,320.4 652.0,319.1 675.0,319.9 695.0,321.1 732.5,318.9 757.5,320.9 775.0,319.9 820.0,320.9 872.5,320.9 890.0,319.7 907.5,321.1 946.0,321.1 1005.0,322.9 1045.0,320.4 1070.0,321.6 1115.0,321.1 1160.0,322.9 1202.5,319.9 1242.5,322.1 1265.0,319.9 1285.0,321.6 1342.5,320.9 1367.5,322.1 1415.0,322.1 1430.0,320.3 1455.0,322.3 1510.0,320.8 1530.0,322.1 1580.0,322.1 1655.0,320.8 1685.0,320.8 1685.0,326.8" fill="#008000"/>
</g>
<clipPath id="axclip"><rect x="137.8" y="40" width="1547.4" height="290"/></clipPath>
<polyline clip-path="url(#axclip)" points="137.8,210.3 140.3,211.4 142.8,212.3 145.0,213.0 145.3,213.1 147.8,213.8 150.2,214.4 152.5,214.6 152.7,214.6 155.2,214.2 157.7,213.3 160.0,212.3 160.2,212.2 162.7,210.5 165.2,207.9 167.7,204.8 169.3,202.5 170.2,201.1 172.7,195.6 175.1,189.2 177.6,183.2 178.0,182.5 180.1,178.1 182.6,173.1 185.1,169.4 186.0,168.6 187.6,167.6 190.1,166.3 192.0,166.0 192.6,166.0 195.1,166.2 197.6,166.7 200.0,167.4 202.5,168.1 205.0,168.8 205.0,168.8 207.5,169.5 210.0,170.4 212.5,171.4 215.0,172.5 217.5,173.4 220.0,174.3 222.4,175.0 222.5,175.0 224.9,175.6 227.4,176.1 229.9,176.7 232.4,177.1 234.9,177.4 237.4,177.5 237.5,177.5 239.9,177.2 242.4,176.3 244.9,175.1 247.3,173.9 249.8,172.9 252.3,172.5 252.5,172.5 254.8,172.8 257.3,173.5 259.8,174.7 262.3,176.0 264.8,177.4 265.0,177.5 267.3,178.9 269.7,180.7 272.2,182.7 274.7,184.9 277.2,187.3 279.7,189.7 280.0,190.0 282.2,192.4 284.7,195.7 287.2,199.2 289.7,202.5 292.2,205.3 294.6,207.3 295.0,207.5 297.1,208.6 299.6,209.8 302.1,210.8 304.6,211.7 307.1,212.2 309.6,212.5 310.0,212.5 312.1,212.4 314.6,211.9 317.1,211.2 319.5,210.2 320.0,210.0 322.0,208.5 324.5,205.1 327.0,200.7 329.5,195.9 330.0,195.0 332.0,190.6 334.5,183.8 337.0,177.0 339.5,171.8 340.0,171.0 341.9,168.6 344.4,165.9 346.9,164.2 347.5,164.0 349.4,163.4 351.9,162.7 354.4,162.2 356.9,162.0 357.5,162.0 359.4,162.1 361.9,162.5 364.4,163.1 366.8,163.9 369.3,164.8 370.0,165.0 371.8,165.8 374.3,167.2 376.8,168.8" fill="none" stroke="#000" stroke-width="5.6" stroke-linejoin="round" stroke-linecap="square"/>
<polyline clip-path="url(#axclip)" points="448.0,204.5 450.5,206.4 453.0,207.9 454.5,208.5 455.5,208.8 458.0,209.5 460.5,210.2 463.0,210.6 465.5,210.8 466.0,210.8 468.0,210.6 470.5,209.9 473.0,208.8 475.5,207.4 477.0,206.5 478.0,205.7 480.5,202.4 483.0,197.9 484.5,195.0 485.5,192.9 488.0,186.4 490.5,179.8 491.5,177.5 493.0,174.4 495.5,169.4 498.0,165.9 498.5,165.5 500.5,164.3 503.0,163.3 505.0,163.0 505.5,163.0 508.0,163.7 510.5,164.6 512.5,165.0 513.0,165.0 515.5,164.8 518.0,164.6 520.0,164.5 520.5,164.5 523.0,164.7 525.5,165.1 528.0,165.7 530.0,166.2 530.5,166.4 533.0,167.5 535.5,169.1 538.0,170.5 540.0,171.2 540.5,171.4 543.0,172.0 545.5,172.5 548.0,172.9 550.5,173.2 552.5,173.2 553.0,173.2 555.5,173.0 558.0,172.4 560.5,171.9 563.0,171.4 565.0,171.2 565.5,171.3 568.0,171.8 570.5,172.8 572.5,173.8 572.9,174.0 575.4,175.6 577.9,177.7 580.4,180.1 582.9,182.8 585.0,185.0 585.4,185.5 587.9,188.5 590.4,192.0 592.9,195.5 595.4,198.8 597.5,201.2 597.9,201.7 600.4,204.4 602.9,206.9 605.4,209.2 607.9,211.2 610.0,212.5 610.4,212.7 612.9,214.1 615.4,215.2 617.5,215.5 617.9,215.5 620.4,215.3 622.9,214.9 625.4,214.4 627.5,213.8 627.9,213.6 630.4,211.5 632.9,208.1 635.0,205.0 635.4,204.3 637.9,199.7 640.4,194.3 642.5,190.0 642.9,189.2 645.4,184.2 647.9,179.5 650.0,176.2 650.4,175.7 652.9,172.5 655.4,169.7 657.9,167.4 660.0,166.2 660.4,166.1 662.9,165.2 665.4,164.4 667.9,163.9 670.0,163.8 670.4,163.8 672.9,164.0 675.4,164.5 677.9,165.1 680.0,165.8 680.4,165.9 682.9,167.1 685.4,168.8 687.9,170.6 690.4,172.5 692.5,173.8 692.9,174.0 695.4,175.4 697.9,176.9 700.4,178.3 702.9,179.5 705.4,180.3 707.5,180.5 707.9,180.5 710.4,180.3 712.9,179.9 715.4,179.6 717.5,179.5 717.9,179.5 720.4,180.0 722.9,181.1 725.4,182.5 727.5,183.8 727.9,184.0 730.4,185.5 732.9,187.4 735.4,189.5 737.9,191.7 740.0,193.8 740.4,194.1 742.9,197.0 745.4,200.2 747.9,203.5 750.4,206.6 752.5,208.8 752.9,209.1 755.4,211.2 757.9,213.3 760.4,215.3 762.9,217.1 765.4,218.8 767.9,220.2 770.4,221.3 772.5,222.0 772.9,222.1 775.4,222.8 777.9,223.4 780.4,223.8 782.9,224.2 785.0,224.2 785.4,224.2 787.9,223.8 790.4,222.9 792.9,221.6 795.4,220.1 797.5,218.8 797.9,218.5 800.4,216.2 802.9,213.1 805.4,209.7 807.9,206.3 810.0,203.8 810.4,203.4 812.9,200.5 815.4,197.6 817.9,195.0 820.3,192.9 822.5,191.8 822.8,191.6 825.3,190.8 827.8,190.2 830.0,190.0 830.3,190.0 832.8,191.0 835.3,192.9 837.5,194.5 837.8,194.7 840.3,196.7 842.8,199.0 845.3,201.1 847.8,202.9 850.0,203.8 850.3,203.8 852.8,204.4 855.3,204.8 857.8,205.2 860.3,205.4 862.5,205.5 862.8,205.5 865.3,204.3 867.8,202.3 869.0,201.5 870.3,200.5 872.8,198.6 875.0,197.8 875.3,197.8 877.8,197.8 880.3,197.8 882.5,197.8 882.8,197.8 885.3,198.8 887.8,200.6 890.0,202.0 890.3,202.2 892.8,203.3 895.3,204.4 897.5,205.5 897.8,205.7 900.3,207.5 902.8,209.7 905.3,212.1 907.8,214.6 910.0,216.8 910.3,217.0 912.8,219.6 915.3,222.4 917.8,225.1 920.3,227.3 922.5,228.8 922.8,228.9 925.3,230.1 927.8,231.3 930.3,232.2 932.8,232.8 935.0,233.0 935.3,233.0 937.8,233.0 940.3,232.8 942.8,232.7 945.0,232.5 945.3,232.5 947.8,231.8 950.3,230.7 952.8,229.3 953.8,228.8 955.3,227.8 957.8,225.8 960.3,223.5 962.8,221.0 965.0,218.8 965.3,218.5 967.8,215.4 970.3,212.3 972.5,210.5 972.8,210.4 975.3,209.4 977.8,208.7 980.0,208.0 980.3,207.9 982.8,206.4 985.3,205.1 986.2,205.0 987.8,205.4 990.3,207.0 992.5,208.8 992.8,208.9 995.3,211.1 997.8,213.2 998.8,213.8 1000.3,214.4 1002.8,215.4 1005.3,216.3 1007.8,216.8 1010.0,217.0 1010.3,217.0 1012.8,217.0 1015.3,217.0 1017.5,217.0 1017.8,217.0 1020.3,216.1 1022.8,214.3 1025.0,212.5 1025.3,212.3 1027.8,209.9 1030.3,207.3 1032.5,205.5 1032.8,205.3 1035.3,203.7 1037.8,202.5 1040.0,202.0 1040.3,202.0 1042.8,202.1 1045.3,202.2 1047.8,202.4 1048.8,202.5 1050.3,202.9 1052.8,204.1 1055.3,205.9 1057.5,207.5 1057.8,207.7 1060.3,209.7 1062.8,212.0 1065.3,214.3 1067.5,216.2 1067.7,216.4 1070.2,218.6 1072.7,220.7 1075.2,222.4 1077.5,223.2 1077.7,223.3 1080.2,223.7 1082.7,224.0 1085.2,224.2 1087.5,224.2 1087.7,224.2 1090.2,223.6 1092.7,222.2 1095.2,220.3 1096.2,219.5 1097.7,217.8 1100.2,213.5 1102.5,208.8 1102.7,208.2 1105.2,201.4 1107.7,193.9 1108.8,191.2 1110.2,187.9 1112.7,182.7 1115.2,178.0 1116.2,176.2 1117.7,173.5 1120.2,168.8 1122.5,166.8 1122.7,166.7 1125.2,166.4 1127.7,166.3 1128.8,166.2 1130.2,166.7 1132.7,168.6 1135.0,170.0 1135.2,170.1 1137.7,170.6 1140.2,170.9 1142.7,171.2 1145.2,171.6 1147.5,172.0 1147.7,172.1 1150.2,172.8 1152.7,173.9 1155.0,175.0 1155.2,175.1 1157.7,177.0 1160.2,179.3 1162.5,180.8 1162.7,180.8 1165.2,181.8 1167.7,182.7 1170.2,183.4 1172.7,183.7 1173.8,183.8 1175.2,183.5 1177.7,182.2 1180.2,180.6 1181.2,180.0 1182.7,179.1 1185.2,177.5 1187.5,176.8 1187.7,176.8 1190.2,176.9 1192.7,177.3 1193.8,177.5 1195.2,177.9 1197.7,179.0 1200.2,180.7 1202.7,182.6 1205.2,184.8 1206.2,185.8 1207.7,187.3 1210.2,190.6 1212.7,194.5 1215.2,198.3 1217.5,201.2 1217.7,201.5 1220.2,204.2 1222.7,207.0 1225.2,209.4 1227.7,211.4 1230.0,212.5 1230.2,212.6 1232.7,213.3 1235.2,214.0 1237.7,214.5 1240.2,214.9 1242.5,215.0 1242.7,215.0 1245.2,214.7 1247.7,214.0 1250.2,213.0 1251.2,212.5 1252.7,211.5 1255.2,208.4 1257.7,204.4 1258.8,202.5 1260.2,199.6 1262.7,193.3 1265.0,187.5 1265.2,187.1 1267.7,181.7 1270.2,176.7 1272.5,172.5 1272.7,172.2 1275.2,168.2 1277.7,164.8 1278.8,163.8 1280.2,162.7 1282.7,161.1 1284.2,160.8 1285.2,160.9 1287.7,162.8 1290.2,164.7 1291.2,165.0 1292.7,165.0 1295.2,165.0 1297.5,165.0 1297.7,165.0 1300.2,165.5 1302.7,166.7 1305.2,168.2 1307.7,169.9 1310.0,171.2 1310.2,171.3 1312.7,172.8 1315.1,174.4 1317.6,175.5 1318.8,175.8 1320.1,175.9 1322.6,176.0 1325.1,176.2 1327.6,176.2 1330.0,176.2 1330.1,176.2 1332.6,174.7 1335.1,172.3 1336.2,171.8 1337.6,171.4 1340.1,170.9 1342.5,170.8 1342.6,170.8 1345.1,171.2 1347.6,172.2 1350.1,173.7 1352.6,175.4 1355.0,177.0 1355.1,177.1 1357.6,178.9 1360.1,181.2 1362.5,183.8 1362.6,183.9 1365.1,187.7 1367.6,192.0 1368.8,193.8 1370.1,195.8 1372.6,199.5 1375.1,202.7 1376.2,203.8 1377.6,204.8 1380.1,206.5 1382.6,207.8 1385.0,208.8 1385.1,208.8 1387.6,209.6 1390.1,210.4 1392.6,211.0 1395.1,211.5 1397.6,211.9 1400.0,212.0 1400.1,212.0 1402.6,211.2 1405.1,209.5 1407.5,207.5 1407.6,207.4 1410.1,205.0 1412.6,201.8 1413.8,200.0 1415.1,197.1 1417.6,190.3 1418.8,187.5 1420.1,184.5 1422.6,179.1 1425.1,174.3 1426.2,172.5 1427.6,170.6 1430.1,167.5 1432.6,164.9 1433.8,163.8 1435.1,162.4 1437.6,160.0 1440.0,158.8 1440.1,158.7 1442.6,158.3 1445.1,157.9 1447.6,157.7 1450.1,157.5 1452.5,157.5 1452.6,157.5 1455.1,157.8 1457.6,158.6 1460.1,159.7 1462.6,160.9 1465.0,162.0 1465.1,162.0 1467.6,163.4 1470.1,164.9 1472.5,165.8 1472.6,165.8 1475.1,166.1 1477.6,166.3 1480.0,166.5 1480.1,166.5 1482.6,167.1 1485.1,167.8 1487.6,168.5 1490.0,168.8 1490.1,168.7 1492.6,168.6 1495.1,168.3 1497.6,168.0 1498.8,168.0 1500.1,168.1 1502.6,169.1 1505.1,170.5 1507.5,172.0 1507.6,172.0 1510.1,173.6 1512.6,175.5 1515.1,177.6 1516.2,178.8 1517.6,180.2 1520.1,183.6 1522.6,187.2 1523.8,188.8 1525.1,190.5 1527.6,193.8 1530.1,196.9 1532.5,199.5 1532.6,199.6 1535.1,201.8 1537.6,203.8 1540.1,205.6 1542.5,207.0 1542.6,207.0 1545.1,208.4 1547.6,209.6 1550.1,210.4 1551.2,210.5 1552.6,210.5 1555.1,210.5 1557.5,210.5 1557.6,210.5 1560.1,209.9 1562.5,208.4 1563.8,207.5 1565.0,206.2 1567.5,202.3 1570.0,197.5 1570.0,197.4 1572.5,191.2 1575.0,184.2 1576.2,181.2 1577.5,178.3 1580.0,173.0 1582.5,168.8 1582.5,168.7 1585.0,165.3 1587.5,162.4 1590.0,159.9 1591.2,158.8 1592.5,157.6 1595.0,155.4 1597.5,153.4 1600.0,151.8 1602.5,150.8 1602.5,150.7 1605.0,150.1 1607.5,149.6 1610.0,149.1 1612.5,148.9 1615.0,148.8 1615.0,148.8 1617.5,150.3 1620.0,153.3 1622.5,155.8 1622.5,155.8 1625.0,157.0 1627.5,158.0 1630.0,158.8 1632.5,159.7 1635.0,160.8 1635.0,160.8 1637.5,162.5 1640.0,164.2 1641.2,164.5 1642.5,164.5 1645.0,164.4 1647.5,164.3 1648.8,164.2 1650.0,164.3 1652.5,165.0 1655.0,166.0 1657.5,167.0 1657.5,167.0 1660.0,167.9 1662.5,168.8 1665.0,169.9 1667.5,171.2 1667.5,171.3 1670.0,173.2 1672.5,176.0 1673.8,177.5 1675.0,179.4 1677.5,184.1 1680.0,188.8 1680.0,188.8 1682.5,192.7 1685.0,196.2" fill="none" stroke="#000" stroke-width="5.6" stroke-linejoin="round" stroke-linecap="square"/>
<g fill="#555555" stroke="none">
<rect x="126" y="326.8" width="9.0" height="2.4"/>
<rect x="126" y="262.8" width="9.0" height="2.4"/>
<rect x="126" y="197.7" width="9.0" height="2.4"/>
<rect x="126" y="133.8" width="9.0" height="2.4"/>
<rect x="126" y="69.8" width="9.0" height="2.4"/>
<rect x="134.5" y="329.2" width="2.5" height="8.7"/>
<rect x="291.02" y="329.6" width="2" height="4.3"/>
<rect x="446.65" y="329.6" width="2" height="4.3"/>
<rect x="602.27" y="329.6" width="2" height="4.3"/>
<rect x="757.90" y="329.6" width="2" height="4.3"/>
<rect x="913.52" y="329.6" width="2" height="4.3"/>
<rect x="1069.15" y="329.6" width="2" height="4.3"/>
<rect x="1224.78" y="329.6" width="2" height="4.3"/>
<rect x="1380.40" y="329.6" width="2" height="4.3"/>
<rect x="1536.03" y="329.6" width="2" height="4.3"/>
<rect x="1684.30" y="329.2" width="2.4" height="8.8"/>
</g>
<g fill="#555555" font-size="27.78">
<text x="117" y="340.0" text-anchor="end">0</text>
<text x="117" y="276.0" text-anchor="end">25</text>
<text x="117" y="210.9" text-anchor="end">50</text>
<text x="117" y="147.0" text-anchor="end">75</text>
<text x="117" y="83.0" text-anchor="end">100</text>
<text x="136.8" y="369" text-anchor="middle">19</text>
<text x="136.8" y="402" text-anchor="middle">Aug</text>
<text x="136.8" y="434" text-anchor="middle">2025</text>
<text x="292.4" y="365" text-anchor="middle">20</text>
<text x="448.0" y="365" text-anchor="middle">21</text>
<text x="603.7" y="365" text-anchor="middle">22</text>
<text x="759.3" y="365" text-anchor="middle">23</text>
<text x="914.9" y="365" text-anchor="middle">24</text>
<text x="1070.6" y="365" text-anchor="middle">25</text>
<text x="1226.2" y="365" text-anchor="middle">26</text>
<text x="1381.8" y="365" text-anchor="middle">27</text>
<text x="1537.4" y="365" text-anchor="middle">28</text>
</g>
<text transform="translate(45.2,174) rotate(-90)" text-anchor="middle" font-size="33.33" fill="#555555">power [GW]</text>
<g id="legend">
<rect x="146.3" y="29.6" width="227.4" height="178.8" rx="4" ry="4" fill="#e5e5e5" fill-opacity="0.8" stroke="#cccccc" stroke-opacity="0.8" stroke-width="1.4"/>
<rect x="150.7" y="42.0" width="45.2" height="6.0" fill="#000"/>
<text x="208.4" y="52.6" font-size="19.44" fill="#000">today's demand</text>
<rect x="154.1" y="67.2" width="38.9" height="14" fill="#814233"/>
<text x="208.4" y="81.2" font-size="19.44" fill="#000">other</text>
<rect x="154.1" y="95.8" width="38.9" height="14" fill="#ffff00"/>
<text x="208.4" y="109.9" font-size="19.44" fill="#000">solar PV</text>
<rect x="154.1" y="124.4" width="38.9" height="14" fill="#3b6182"/>
<text x="208.4" y="138.5" font-size="19.44" fill="#000">onshore wind</text>
<rect x="154.1" y="153.1" width="38.9" height="14" fill="#5d83a5"/>
<text x="208.4" y="167.2" font-size="19.44" fill="#000">offshore wind</text>
<rect x="154.1" y="181.8" width="38.9" height="14" fill="#008000"/>
<text x="208.4" y="195.8" font-size="19.44" fill="#000">hydroelectricity</text>
</g>
</svg></body></html>
